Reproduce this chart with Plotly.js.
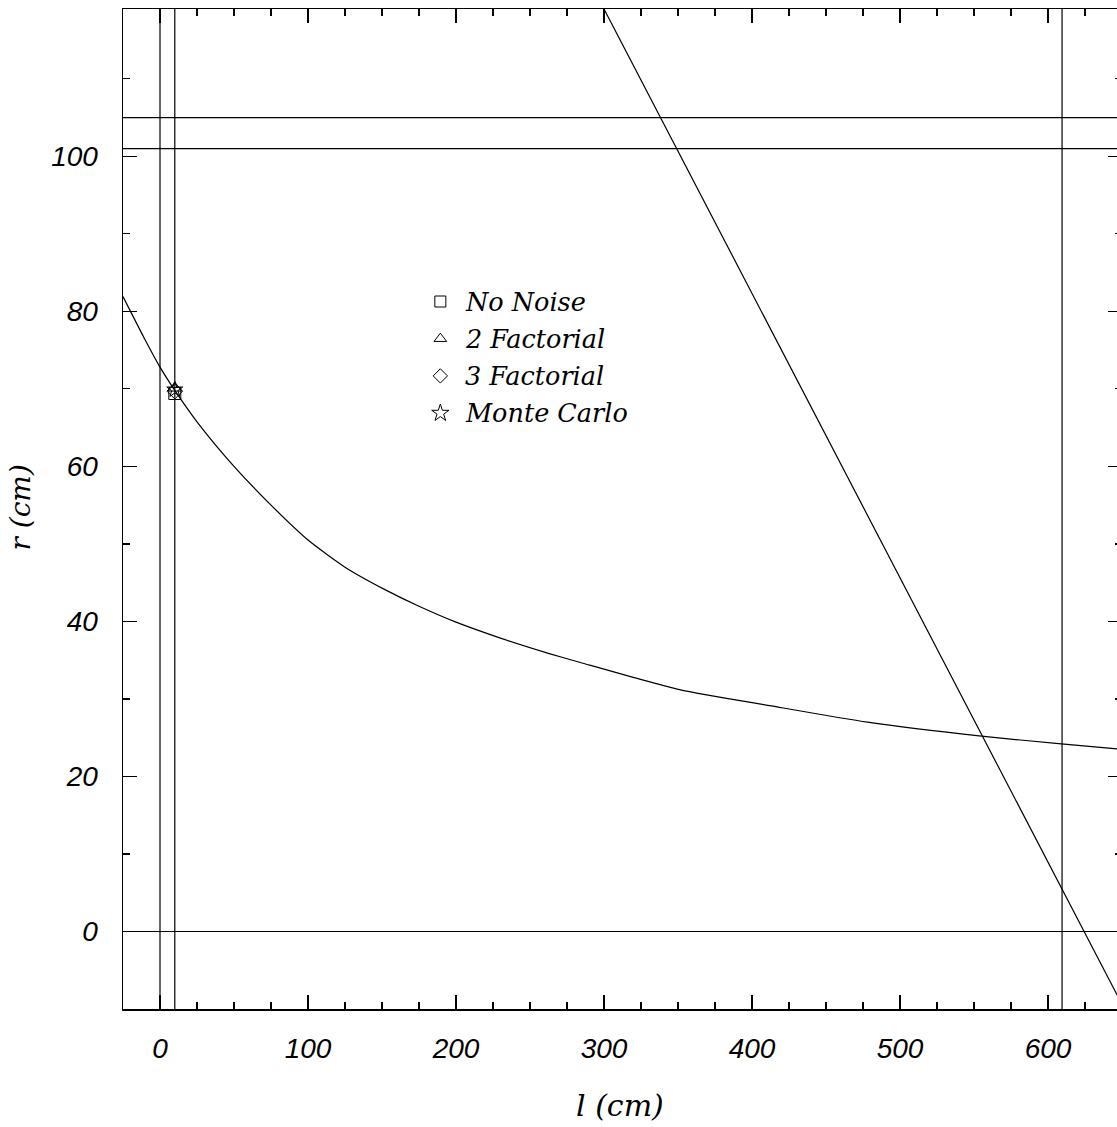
<!DOCTYPE html>
<html>
<head>
<meta charset="utf-8">
<script src="https://cdn.plot.ly/plotly-3.0.1.min.js"></script>
<style>
html,body{margin:0;padding:0;overflow:hidden;background:#fff;}
#chart{width:1140px;height:1127px;}
</style>
</head>
<body>
<div id="chart"></div>
<script>
// ---- data ----
var curveL = [-25, -10, 0, 10, 25, 50, 75, 100, 125, 152, 175, 200, 230, 263, 284, 351, 413, 478, 555, 609, 650];
var curveR = [81.9, 76.3, 72.8, 69.8, 65.75, 60.0, 55.0, 50.5, 47.0, 44.1, 41.95, 39.9, 37.85, 35.85, 34.7, 31.2, 29.1, 27.0, 25.2, 24.2, 23.5];

var diagL = [300, 515.8, 555, 609.4, 624.4, 650];
var diagR = [119, 39.8, 25.4, 5.5, 0, -9.4];

var vLines = [0, 10, 609.5];
var hLines = [0, 101, 105];

var seriesNames = ["No Noise", "2 Factorial", "3 Factorial", "Monte Carlo"];
var seriesSymbols = ["square-open", "triangle-up-open", "diamond-open", "star-open"];
var seriesL = [10, 10, 10, 10];
var seriesR = [69.4, 70.1, 69.7, 69.9];

var xTickVals = [0, 100, 200, 300, 400, 500, 600];
var yTickVals = [0, 20, 40, 60, 80, 100];

var serif = "DejaVu Serif, Liberation Serif, serif";
var sans = "Liberation Sans, DejaVu Sans, sans-serif";

var traces = [];
traces.push({x: curveL, y: curveR, mode: 'lines', line: {color: '#000', width: 1.2, shape: 'spline', smoothing: 0.6}, hoverinfo: 'skip', showlegend: false});
traces.push({x: diagL, y: diagR, mode: 'lines', line: {color: '#000', width: 1.2}, hoverinfo: 'skip', showlegend: false});
for (var i = 0; i < seriesNames.length; i++) {
  traces.push({x: [seriesL[i]], y: [seriesR[i]], mode: 'markers', name: seriesNames[i],
    marker: {symbol: seriesSymbols[i], size: 12, color: '#000', line: {color: '#000', width: 1}}, showlegend: false});
  // legend symbol on overlay axes
  traces.push({x: [0], y: [-i], xaxis: 'x2', yaxis: 'y2', mode: 'markers', hoverinfo: 'skip',
    marker: {symbol: seriesSymbols[i], size: i === 3 ? 13 : 11, color: '#000', line: {color: '#000', width: 1}}, showlegend: false});
}

var shapes = [];
vLines.forEach(function(v){ shapes.push({type:'line', xref:'x', yref:'paper', x0:v, x1:v, y0:0, y1:1, line:{color:'#000', width:1.2}}); });
hLines.forEach(function(h){ shapes.push({type:'line', xref:'paper', yref:'y', x0:0, x1:1, y0:h, y1:h, line:{color:'#000', width:1.2}}); });

// layout geometry (paper coords)
var plotL = 122.5, plotR = 1122, plotT = 9, plotB = 1009;
var pw = plotR - plotL, ph = plotB - plotT;
function px2paperX(p){ return (p - plotL)/pw; }
function px2paperY(p){ return (plotB - p)/ph; }
var legX = 440, legY0 = 301.5, legDy = 37.2;

var annotations = [];
for (var j = 0; j < seriesNames.length; j++) {
  annotations.push({xref:'paper', yref:'paper', x: px2paperX(463), y: px2paperY(legY0 + j*legDy),
    xanchor:'left', yanchor:'middle', showarrow:false, text: seriesNames[j],
    font:{family: serif, size: 25.5, style:'italic', color:'#000'}});
}
annotations.push({xref:'paper', yref:'paper', x: px2paperX(620), y: px2paperY(1105), xanchor:'center', yanchor:'middle',
  showarrow:false, text:'l (cm)', font:{family: serif, size: 30, style:'italic', color:'#000'}});
annotations.push({xref:'paper', yref:'paper', x: px2paperX(19), y: px2paperY(508), xanchor:'center', yanchor:'middle',
  textangle:-90, showarrow:false, text:'r (cm)', font:{family: serif, size: 28, style:'italic', color:'#000'}});

var layout = {
  width: 1140, height: 1127,
  margin: {l: plotL, r: 1140 - plotR, t: plotT, b: 1127 - plotB, pad: 0},
  paper_bgcolor: '#fff', plot_bgcolor: '#fff',
  showlegend: false,
  xaxis: {range: [-25, 650], tickvals: xTickVals, ticktext: xTickVals.map(String),
    ticks: 'inside', ticklen: 14, tickwidth: 1.3, tickcolor: '#000',
    minor: {dtick: 25, tick0: 0, ticks: 'inside', ticklen: 7, tickwidth: 1.3, tickcolor: '#000'},
    showline: true, linecolor: '#000', linewidth: 1.5, mirror: 'ticks', showgrid: false, zeroline: false,
    tickfont: {family: sans, size: 28, style: 'italic', color: '#000'}, ticklabelstandoff: 14},
  yaxis: {range: [-10, 119], tickvals: yTickVals, ticktext: yTickVals.map(String),
    ticks: 'inside', ticklen: 14, tickwidth: 1.3, tickcolor: '#000',
    minor: {dtick: 10, tick0: 0, ticks: 'inside', ticklen: 7, tickwidth: 1.3, tickcolor: '#000'},
    showline: true, linecolor: '#000', linewidth: 1.5, mirror: 'ticks', showgrid: false, zeroline: false,
    tickfont: {family: sans, size: 28, style: 'italic', color: '#000'}, ticklabelstandoff: 18},
  xaxis2: {overlaying: 'x', range: [plotL - legX, plotR - legX], visible: false, fixedrange: true},
  yaxis2: {overlaying: 'y', range: [-(plotB - legY0)/legDy, (legY0 - plotT)/legDy], visible: false, fixedrange: true},
  shapes: shapes,
  annotations: annotations
};

Plotly.newPlot('chart', traces, layout, {staticPlot: true});
</script>
</body>
</html>
